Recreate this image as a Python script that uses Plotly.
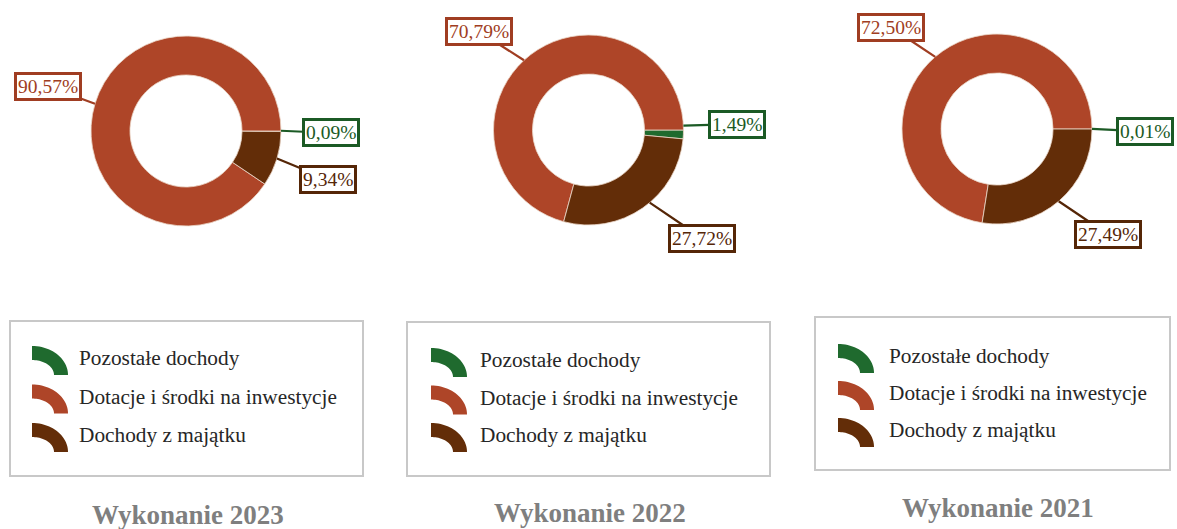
import numpy as np
import plotly.graph_objects as go

W, H = 1177, 529

# ---- data -------------------------------------------------------------
categories = ["Pozostałe dochody", "Dotacje i środki na inwestycje", "Dochody z majątku"]
titles = ["Wykonanie 2023", "Wykonanie 2022", "Wykonanie 2021"]
share_2023 = [0.09, 90.57, 9.34]
share_2022 = [1.49, 70.79, 27.72]
share_2021 = [0.01, 72.50, 27.49]
shares = [share_2023, share_2022, share_2021]

# ---- styling ----------------------------------------------------------
slice_colors = ["#1F6A2E", "#AE4528", "#632D08"]
label_colors = ["#1B5A25", "#A03D22", "#552607"]
FONT = "Liberation Serif, Times New Roman, serif"

# pie geometry (pixels)
pie_centers = [(186, 131), (588.5, 130), (997, 129)]
R = 95
HOLE = 0.59

# centres of the value boxes (pixels), per pie, in category order
label_boxes = [
    [(331, 133), (47.5, 86.5), (327.5, 179.5)],
    [(737, 124), (479, 31.5), (702, 238)],
    [(1145, 131.5), (891, 27.5), (1108, 234.5)],
]

# legend frames: (x0, y0, x1, y1), icon left, text left, first row centre, row step
legend_frames = [
    ((10, 321, 363, 476), 32, 77, 358, 38.5),
    ((407, 322, 770, 476), 431, 478, 360, 37.5),
    ((815, 317, 1170, 470), 838, 887, 356, 37),
]
title_pos = [(187.5, 515), (590, 513), (998, 508)]


def px(x):
    return x / W


def py(y):
    return 1 - y / H


fig = go.Figure()
annotations = []
shapes = []

for i, vals in enumerate(shares):
    cx, cy = pie_centers[i]
    fig.add_trace(go.Pie(
        labels=categories,
        values=vals,
        hole=HOLE,
        sort=False,
        direction="counterclockwise",
        rotation=90,
        marker=dict(colors=slice_colors, line=dict(color="rgba(235,215,200,0.8)", width=1)),
        textinfo="none",
        hoverinfo="label+percent",
        showlegend=False,
        domain=dict(x=[px(cx - R), px(cx + R)], y=[py(cy + R), py(cy - R)]),
    ))

    total = float(sum(vals))
    cum = 0.0
    for j, v in enumerate(vals):
        mid = (cum + v / 2) / total * 2 * np.pi
        cum += v
        rx = cx + R * np.cos(mid)
        ry = cy - R * np.sin(mid)
        bx, by = label_boxes[i][j]
        text = f"{v:.2f}".replace(".", ",") + "%"
        annotations.append(dict(
            x=px(rx), y=py(ry), xref="paper", yref="paper",
            ax=bx - rx, ay=by - ry, axref="pixel", ayref="pixel",
            text=text, showarrow=True, arrowhead=0, arrowwidth=2.2,
            arrowcolor=label_colors[j], standoff=0,
            font=dict(family=FONT, size=19.5, color=label_colors[j]),
            bgcolor="white", bordercolor=label_colors[j], borderwidth=3, borderpad=1,
        ))

    # legend frame with arc icons
    (x0, y0, x1, y1), ix, tx, ry0, step = legend_frames[i]
    shapes.append(dict(type="rect", xref="paper", yref="paper",
                       x0=px(x0), x1=px(x1), y0=py(y1), y1=py(y0),
                       line=dict(color="#c8c8c8", width=2), layer="below"))
    for j, name in enumerate(categories):
        yc = ry0 + j * step
        top = yc - 12
        ex, ey = ix, top + 29  # ellipse centre of the arc icon
        t = np.linspace(np.pi / 2, 0, 24)
        outer = [(ex + 36 * np.cos(a), ey - 29 * np.sin(a)) for a in t]
        inner = [(ex + 22 * np.cos(a), ey - 15 * np.sin(a)) for a in t[::-1]]
        pts = outer + inner
        path = "M " + " L ".join(f"{px(a):.5f},{py(b):.5f}" for a, b in pts) + " Z"
        shapes.append(dict(type="path", xref="paper", yref="paper", path=path,
                           fillcolor=slice_colors[j], line=dict(width=0)))
        annotations.append(dict(
            x=px(tx), y=py(yc), xref="paper", yref="paper",
            xanchor="left", yanchor="middle", showarrow=False, text=name,
            font=dict(family=FONT, size=21.3, color="#262626"),
        ))

    tx_, ty_ = title_pos[i]
    annotations.append(dict(
        x=px(tx_), y=py(ty_), xref="paper", yref="paper",
        xanchor="center", yanchor="middle", showarrow=False, text=titles[i],
        font=dict(family=FONT, size=27, color="#7f7f7f", weight=700),
    ))

fig.update_layout(
    width=W, height=H, autosize=False,
    margin=dict(l=0, r=0, t=0, b=0),
    paper_bgcolor="white", plot_bgcolor="white",
    annotations=annotations, shapes=shapes,
)

fig.write_html("out.html", config={"displayModeBar": False})
